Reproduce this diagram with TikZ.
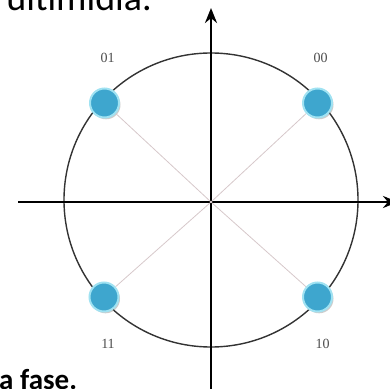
\documentclass[tikz,border=0pt]{standalone}
\usepackage{fontspec}
\newfontfamily\textofont{Carlito}
\newfontfamily\rotulofont{Liberation Serif}
\usetikzlibrary{arrows.meta,shadows}

\definecolor{pontoazul}{RGB}{62,166,206}
\definecolor{pontoanel}{RGB}{160,226,242}
\definecolor{raiocor}{RGB}{214,200,202}

\begin{document}
\begin{tikzpicture}[x=1pt, y=1pt, >={Stealth[length=15pt,width=12pt]},
  ponto/.style={circle, fill=pontoazul, draw=pontoanel, line width=2pt,
    minimum size=29pt, inner sep=0pt,
    drop shadow={shadow xshift=1.5pt, shadow yshift=-1.8pt, opacity=0.4}},
  rotulo/.style={font=\rotulofont\fontsize{14}{14}\selectfont, text=black!70},
  raio/.style={draw=raiocor, line width=0.8pt}]

  \useasboundingbox (0,0) rectangle (390,388);
  \clip (0,0) rectangle (390,388);

  % --- 1. texto da pagina ---
  \node[anchor=base east, inner sep=0pt, font=\textofont\fontsize{38}{38}\selectfont]
    (topo) at (152,377) {ultimídia.};
  \node[anchor=base west, inner sep=0pt, font=\textofont\bfseries\fontsize{29}{29}\selectfont]
    (rodape) at (-1,-1) {a fase.};

  % --- 2. circulo e eixos ---
  \coordinate (C) at (211,188);
  \coordinate (O) at (211,186);
  \draw[line width=1.4pt, black!80] (C) circle (147);

  \coordinate (xesq) at (18,186);
  \coordinate (xdir) at (398,186);
  \coordinate (ybai) at (211,-2);
  \coordinate (ycim) at (211,380);
  \draw[->, line width=2.6pt] (xesq) -- (xdir);
  \draw[->, line width=2.6pt] (ybai) -- (ycim);

  % --- 3. pontos da constelacao (QPSK) ---
  \node[ponto, label={[rotulo, label distance=21pt, xshift=3pt]above:01}] (p01) at (104.5,285) {};
  \node[ponto, label={[rotulo, label distance=21pt, xshift=3pt]above:00}] (p00) at (317.5,285) {};
  \node[ponto, label={[rotulo, label distance=23pt, xshift=4pt]below:11}] (p11) at (104,91) {};
  \node[ponto, label={[rotulo, label distance=23pt, xshift=5pt]below:10}] (p10) at (317.5,91) {};

  % raios ate cada ponto
  \draw[raio] (O) -- (p01);
  \draw[raio] (O) -- (p00);
  \draw[raio] (O) -- (p11);
  \draw[raio] (O) -- (p10);

\end{tikzpicture}
\end{document}
